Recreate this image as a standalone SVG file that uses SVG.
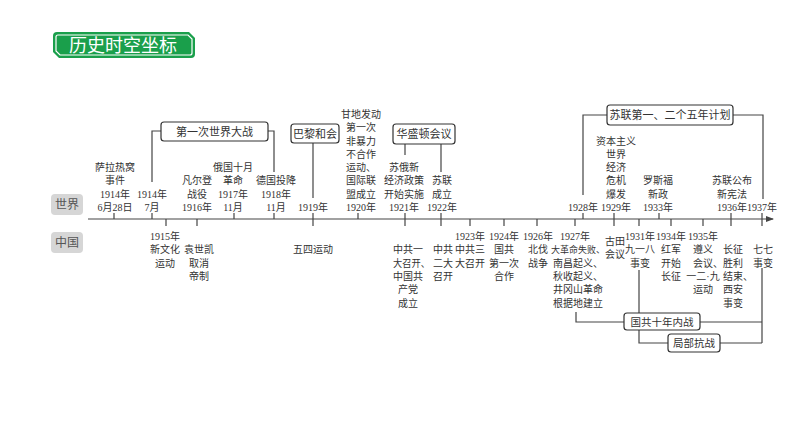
<svg xmlns="http://www.w3.org/2000/svg" width="794" height="447" viewBox="0 0 794 447">
<style>
.t{font-family:"Liberation Serif","Noto Sans CJK SC",serif;font-size:10px;fill:#333;text-anchor:middle}
.ts{font-family:"Liberation Serif","Noto Sans CJK SC",serif;font-size:10px;fill:#333;text-anchor:start}
.bt{font-family:"Liberation Serif","Noto Sans CJK SC",serif;font-size:11px;fill:#333;text-anchor:middle}
.box{fill:#fff;stroke:#333;stroke-width:1.2}
.ln{fill:none;stroke:#444;stroke-width:1.2}
.tk{stroke:#444;stroke-width:1.2}
.lab{font-family:"Noto Sans CJK SC",sans-serif;font-size:12px;fill:#555;text-anchor:middle}
</style>
<defs>
<marker id="arr" markerWidth="8" markerHeight="6" refX="7" refY="3" orient="auto" markerUnits="userSpaceOnUse">
<path d="M0,0 L8,3 L0,6 z" fill="#444"/>
</marker>
</defs>
<rect width="794" height="447" fill="#fff"/>

<g id="title">
<path d="M57,32 H189 L195,38 V54 Q195,58 191,58 H59 L53,52 V36 Q53,32 57,32 Z" fill="#1a9f4b"/>
<path d="M58,35 H188 L192,39 V53 Q192,55 190,55 H60 L56,51 V37 Q56,35 58,35 Z" fill="none" stroke="#fff" stroke-width="1.2"/>
<text x="123" y="52" style="font-family:'Noto Sans CJK SC',sans-serif;font-size:18px;fill:#fff;text-anchor:middle">历史时空坐标</text>
</g>

<g id="label-world">
<rect x="51" y="194" width="32" height="21" rx="4" fill="#d6d6d6"/>
<text class="lab" x="67" y="209">世界</text>
</g>
<g id="label-china">
<rect x="51" y="232" width="32" height="21" rx="4" fill="#d6d6d6"/>
<text class="lab" x="67" y="247">中国</text>
</g>

<g id="connectors">
<line class="ln" x1="88" y1="219" x2="773" y2="219" marker-end="url(#arr)"/>
<g class="tk">
<line x1="114" y1="213" x2="114" y2="219"/>
<line x1="152" y1="213" x2="152" y2="219"/>
<line x1="234" y1="213" x2="234" y2="219"/>
<line x1="274" y1="213" x2="274" y2="219"/>
<line x1="358" y1="213" x2="358" y2="219"/>
<line x1="583" y1="213" x2="583" y2="219"/>
<line x1="659" y1="213" x2="659" y2="219"/>
<line x1="166" y1="219" x2="166" y2="226"/>
<line x1="197" y1="219" x2="197" y2="226"/>
<line x1="470" y1="219" x2="470" y2="226"/>
<line x1="504" y1="219" x2="504" y2="226"/>
<line x1="537" y1="219" x2="537" y2="226"/>
<line x1="575" y1="219" x2="575" y2="226"/>
<line x1="639" y1="219" x2="639" y2="226"/>
<line x1="671" y1="219" x2="671" y2="226"/>
<line x1="703" y1="219" x2="703" y2="226"/>
<line x1="313" y1="213" x2="313" y2="226"/>
<line x1="405" y1="213" x2="405" y2="226"/>
<line x1="441" y1="213" x2="441" y2="226"/>
<line x1="614" y1="213" x2="614" y2="226"/>
<line x1="731" y1="213" x2="731" y2="226"/>
<line x1="762" y1="213" x2="762" y2="226"/>
</g>
<path class="ln" d="M152,182 V131 H161"/>
<path class="ln" d="M268,131 H274 V172"/>
<path class="ln" d="M313,143 V198"/>
<path class="ln" d="M405,144 V155"/>
<path class="ln" d="M441,144 V172"/>
<path class="ln" d="M607,115 H583 V195"/>
<path class="ln" d="M733,115 H763 V199"/>
<path class="ln" d="M576,312 V322 H624"/>
<path class="ln" d="M700,322 H762"/>
<path class="ln" d="M639,270 V343 H668"/>
<path class="ln" d="M720,343 H762"/>
<path class="ln" d="M762,268 V343"/>
</g>

<g id="box-ww1"><rect class="box" x="161" y="122" width="107" height="19" rx="3"/><text class="bt" x="214.5" y="135.5">第一次世界大战</text></g>
<g id="box-paris"><rect class="box" x="291" y="124" width="48" height="19" rx="3"/><text class="bt" x="315" y="137.5">巴黎和会</text></g>
<g id="box-washington"><rect class="box" x="393" y="124" width="62" height="20" rx="3"/><text class="bt" x="424" y="138">华盛顿会议</text></g>
<g id="box-fiveyear"><rect class="box" x="607" y="105" width="126" height="20" rx="3"/><text class="bt" x="670" y="119">苏联第一、二个五年计划</text></g>
<g id="box-civilwar"><rect class="box" x="624" y="313" width="76" height="17" rx="3"/><text class="bt" x="662" y="325.5" style="font-size:10.5px">国共十年内战</text></g>
<g id="box-resistance"><rect class="box" x="668" y="334" width="52" height="18" rx="3"/><text class="bt" x="694" y="347" style="font-size:10.5px">局部抗战</text></g>

<g id="w1914a"><text class="t"><tspan x="115" y="171.1">萨拉热窝</tspan><tspan x="115" y="184.4">事件</tspan><tspan x="115" y="197.7">1914年</tspan><tspan x="115" y="211">6月28日</tspan></text></g>
<g id="w1914b"><text class="t"><tspan x="152" y="197.7">1914年</tspan><tspan x="152" y="211">7月</tspan></text></g>
<g id="w1916"><text class="t"><tspan x="197" y="184.4">凡尔登</tspan><tspan x="197" y="197.7">战役</tspan><tspan x="197" y="211">1916年</tspan></text></g>
<g id="w1917"><text class="t"><tspan x="233" y="171.1">俄国十月</tspan><tspan x="233" y="184.4">革命</tspan><tspan x="233" y="197.7">1917年</tspan><tspan x="233" y="211">11月</tspan></text></g>
<g id="w1918"><text class="t"><tspan x="276" y="184.4">德国投降</tspan><tspan x="276" y="197.7">1918年</tspan><tspan x="276" y="211">11月</tspan></text></g>
<g id="w1919"><text class="t" x="313" y="211">1919年</text></g>
<g id="w1920"><text class="t"><tspan x="361" y="117.9">甘地发动</tspan><tspan x="361" y="131.2">第一次</tspan><tspan x="361" y="144.5">非暴力</tspan><tspan x="361" y="157.8">不合作</tspan><tspan x="361" y="171.1">运动、</tspan><tspan x="361" y="184.4">国际联</tspan><tspan x="361" y="197.7">盟成立</tspan><tspan x="361" y="211">1920年</tspan></text></g>
<g id="w1921"><text class="t"><tspan x="404" y="171.1">苏俄新</tspan><tspan x="404" y="184.4">经济政策</tspan><tspan x="404" y="197.7">开始实施</tspan><tspan x="404" y="211">1921年</tspan></text></g>
<g id="w1922"><text class="t"><tspan x="442" y="184.4">苏联</tspan><tspan x="442" y="197.7">成立</tspan><tspan x="442" y="211">1922年</tspan></text></g>
<g id="w1928"><text class="t" x="583" y="211">1928年</text></g>
<g id="w1929"><text class="t"><tspan x="616" y="144.5">资本主义</tspan><tspan x="616" y="157.8">世界</tspan><tspan x="616" y="171.1">经济</tspan><tspan x="616" y="184.4">危机</tspan><tspan x="616" y="197.7">爆发</tspan><tspan x="616" y="211">1929年</tspan></text></g>
<g id="w1933"><text class="t"><tspan x="658" y="184.4">罗斯福</tspan><tspan x="658" y="197.7">新政</tspan><tspan x="658" y="211">1933年</tspan></text></g>
<g id="w1936"><text class="t"><tspan x="732" y="184.4">苏联公布</tspan><tspan x="732" y="197.7">新宪法</tspan><tspan x="732" y="211">1936年</tspan></text></g>
<g id="w1937"><text class="t" x="762" y="211">1937年</text></g>

<g id="c1915"><text class="t"><tspan x="165" y="240">1915年</tspan><tspan x="165" y="253.3">新文化</tspan><tspan x="165" y="266.6">运动</tspan></text></g>
<g id="c1916"><text class="t"><tspan x="199" y="253.3">袁世凯</tspan><tspan x="199" y="266.6">取消</tspan><tspan x="199" y="279.9">帝制</tspan></text></g>
<g id="c1919"><text class="t" x="313" y="253.3">五四运动</text></g>
<g id="c1921"><text class="t"><tspan x="408" y="253.3">中共一</tspan><tspan x="408" y="279.9">中国共</tspan><tspan x="408" y="293.2">产党</tspan><tspan x="408" y="306.5">成立</tspan></text><text class="ts" x="393" y="266.6" textLength="37" lengthAdjust="spacingAndGlyphs">大召开、</text></g>
<g id="c1922"><text class="t"><tspan x="443" y="253.3">中共</tspan><tspan x="443" y="266.6">二大</tspan><tspan x="443" y="279.9">召开</tspan></text></g>
<g id="c1923"><text class="t"><tspan x="470" y="240">1923年</tspan><tspan x="470" y="253.3">中共三</tspan><tspan x="470" y="266.6">大召开</tspan></text></g>
<g id="c1924"><text class="t"><tspan x="504" y="240">1924年</tspan><tspan x="504" y="253.3">国共</tspan><tspan x="504" y="266.6">第一次</tspan><tspan x="504" y="279.9">合作</tspan></text></g>
<g id="c1926"><text class="t"><tspan x="538" y="240">1926年</tspan><tspan x="538" y="253.3">北伐</tspan><tspan x="538" y="266.6">战争</tspan></text></g>
<g id="c1927">
<text class="ts" x="560" y="240">1927年</text>
<text class="ts" x="551" y="253.3" style="font-size:9px">大革命失败、</text>
<text class="ts" x="553" y="266.6">南昌起义、</text>
<text class="ts" x="553" y="279.9">秋收起义、</text>
<text class="ts" x="553" y="293.2">井冈山革命</text>
<text class="ts" x="553" y="306.5">根据地建立</text>
</g>
<g id="c1929"><text class="t" x="615" y="244.5">古田</text><text class="t" x="615" y="257.8">会议</text></g>
<g id="c1931"><text class="t"><tspan x="640" y="240">1931年</tspan><tspan x="640" y="253.3">九一八</tspan><tspan x="640" y="266.6">事变</tspan></text></g>
<g id="c1934"><text class="t"><tspan x="671" y="240">1934年</tspan><tspan x="671" y="253.3">红军</tspan><tspan x="671" y="266.6">开始</tspan><tspan x="671" y="279.9">长征</tspan></text></g>
<g id="c1935"><text class="t"><tspan x="703" y="240">1935年</tspan><tspan x="703" y="253.3">遵义</tspan><tspan x="703" y="279.9">一二·九</tspan><tspan x="703" y="293.2">运动</tspan></text><text class="ts" x="693" y="266.6">会议、</text></g>
<g id="c1936"><text class="t"><tspan x="733" y="253.3">长征</tspan><tspan x="733" y="266.6">胜利</tspan><tspan x="733" y="293.2">西安</tspan><tspan x="733" y="306.5">事变</tspan></text><text class="ts" x="723" y="279.9">结束、</text></g>
<g id="c1937"><text class="t"><tspan x="763" y="253.3">七七</tspan><tspan x="763" y="266.6">事变</tspan></text></g>
</svg>
